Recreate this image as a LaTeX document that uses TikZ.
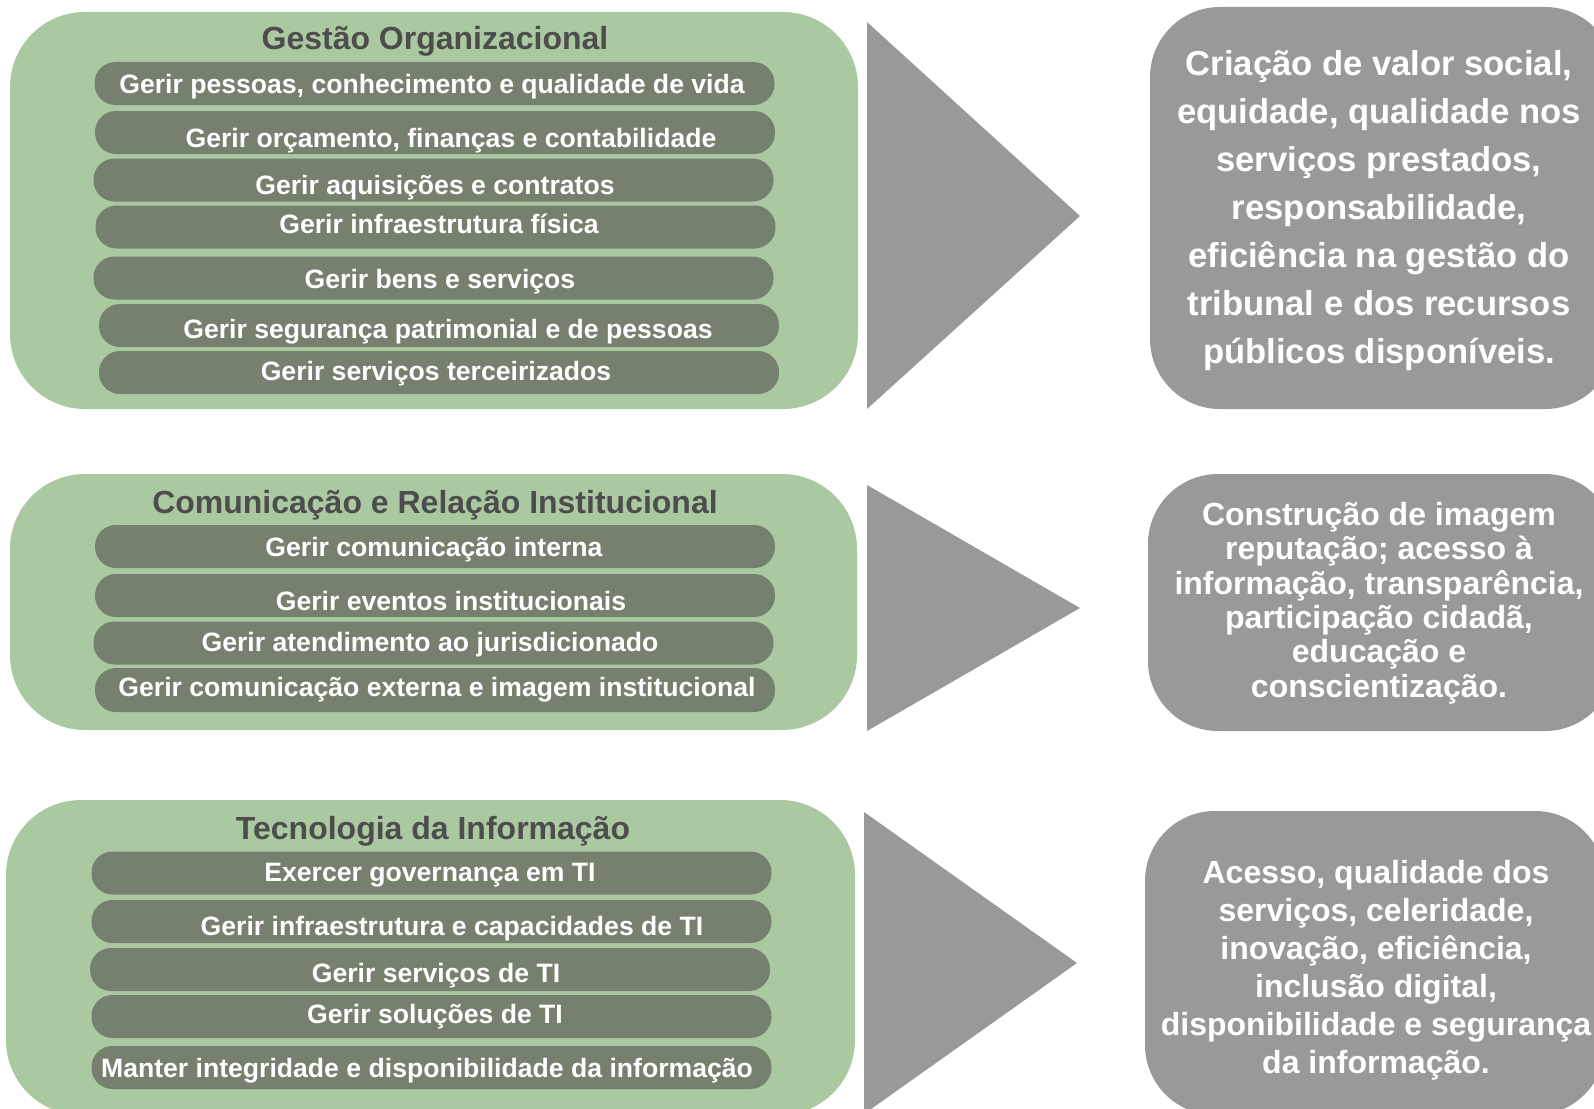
\documentclass[tikz,border=0pt]{standalone}
\usepackage{fontspec}
\setmainfont{Liberation Sans}
\definecolor{greenbg}{RGB}{170,201,160}
\definecolor{barc}{RGB}{117,128,111}
\definecolor{grayc}{RGB}{153,153,153}
\definecolor{titlec}{RGB}{77,77,77}
\tikzset{
  greenbox/.style={fill=greenbg, draw=none, rounded corners=75pt, inner sep=0pt},
  barbox/.style={fill=barc, draw=none, rounded corners=21pt, minimum width=680pt, minimum height=43pt, inner sep=0pt},
  outbox/.style={fill=grayc, draw=none, rounded corners=70pt, inner sep=0pt},
  bartext/.style={text=white, font=\fontsize{26.6}{30}\selectfont\bfseries, anchor=base, inner sep=0pt},
  titletext/.style={text=titlec, font=\fontsize{32}{36}\selectfont\bfseries, anchor=base, inner sep=0pt},
  arrowshape/.style={fill=grayc, draw=none},
}
\begin{document}
\begin{tikzpicture}[x=1pt, y=-1pt]
\useasboundingbox (0,0) rectangle (1594,1108);
\clip (0,0) rectangle (1594,1108);

% ---------- group 1 ----------
\node[greenbox, minimum width=848pt, minimum height=397pt] (g1) at (434,210.5) {};
\node[titletext] (h1) at (435,49) {Gestão Organizacional};
\node[barbox] (b11) at (434.5,83.5) {};
\node[barbox] (b12) at (435,132.5) {};
\node[barbox] (b13) at (433.5,180) {};
\node[barbox] (b14) at (435.5,227) {};
\node[barbox] (b15) at (433.5,278) {};
\node[barbox] (b16) at (439,325.5) {};
\node[barbox] (b17) at (439,372.5) {};
\node[bartext] (t11) at (432,93) {Gerir pessoas, conhecimento e qualidade de vida};
\node[bartext] (t12) at (451,147) {Gerir orçamento, finanças e contabilidade};
\node[bartext] (t13) at (435,194) {Gerir aquisições e contratos};
\node[bartext] (t14) at (439,233) {Gerir infraestrutura física};
\node[bartext] (t15) at (440,288) {Gerir bens e serviços};
\node[bartext] (t16) at (448,338) {Gerir segurança patrimonial e de pessoas};
\node[bartext] (t17) at (436,380) {Gerir serviços terceirizados};

% ---------- group 2 ----------
\node[greenbox, minimum width=847pt, minimum height=256pt] (g2) at (433.5,602) {};
\node[titletext] (h2) at (435,513) {Comunicação e Relação Institucional};
\node[barbox] (b21) at (435,546.5) {};
\node[barbox] (b22) at (435,595.5) {};
\node[barbox] (b23) at (433.5,643) {};
\node[barbox, minimum height=44pt] (b24) at (435,690) {};
\node[bartext] (t21) at (434,556) {Gerir comunicação interna};
\node[bartext] (t22) at (451,610) {Gerir eventos institucionais};
\node[bartext] (t23) at (430,651) {Gerir atendimento ao jurisdicionado};
\node[bartext] (t24) at (437,696) {Gerir comunicação externa e imagem institucional};

% ---------- group 3 ----------
\node[greenbox, minimum width=849pt, minimum height=315pt] (g3) at (430.5,957.5) {};
\node[titletext] (h3) at (433,839) {Tecnologia da Informação};
\node[barbox] (b31) at (431.5,873) {};
\node[barbox] (b32) at (431.5,921.5) {};
\node[barbox] (b33) at (430,969.5) {};
\node[barbox] (b34) at (431.5,1016.5) {};
\node[barbox] (b35) at (431.5,1067.5) {};
\node[bartext] (t31) at (430,881) {Exercer governança em TI};
\node[bartext] (t32) at (452,935) {Gerir infraestrutura e capacidades de TI};
\node[bartext] (t33) at (436,982) {Gerir serviços de TI};
\node[bartext] (t34) at (435,1023) {Gerir soluções de TI};
\node[bartext] (t35) at (427,1077) {Manter integridade e disponibilidade da informação};

% ---------- arrows ----------
\fill[arrowshape] (867,22) -- (1080,216) -- (867,409) -- cycle;
\fill[arrowshape] (867,485) -- (1080,608) -- (867,731) -- cycle;
\fill[arrowshape] (864,812) -- (1077,963) -- (864,1114) -- cycle;

% ---------- outcomes ----------
\node[outbox, minimum width=465pt, minimum height=402pt] (o1) at (1382.5,208) {};
\node[outbox, minimum width=467pt, minimum height=257pt] (o2) at (1381.5,602.5) {};
\node[outbox, minimum width=460pt, minimum height=304pt] (o3) at (1375,963) {};

\node[text=white, align=center, inner sep=0pt, font=\fontsize{34.6}{48}\selectfont\bfseries] (r1) at (1379,211)
 {Criação de valor social,\\equidade, qualidade nos\\serviços prestados,\\responsabilidade,\\eficiência na gestão do\\tribunal e dos recursos\\públicos disponíveis.};
\node[text=white, align=center, inner sep=0pt, font=\fontsize{32}{34.4}\selectfont\bfseries] (r2) at (1379,603)
 {Construção de imagem\\reputação; acesso à\\informação, transparência,\\participação cidadã,\\educação e\\conscientização.};
\node[text=white, align=center, inner sep=0pt, font=\fontsize{32}{38}\selectfont\bfseries] (r3) at (1376,970.5)
 {Acesso, qualidade dos\\serviços, celeridade,\\inovação, eficiência,\\inclusão digital,\\disponibilidade e segurança\\da informação.};
\end{tikzpicture}
\end{document}
